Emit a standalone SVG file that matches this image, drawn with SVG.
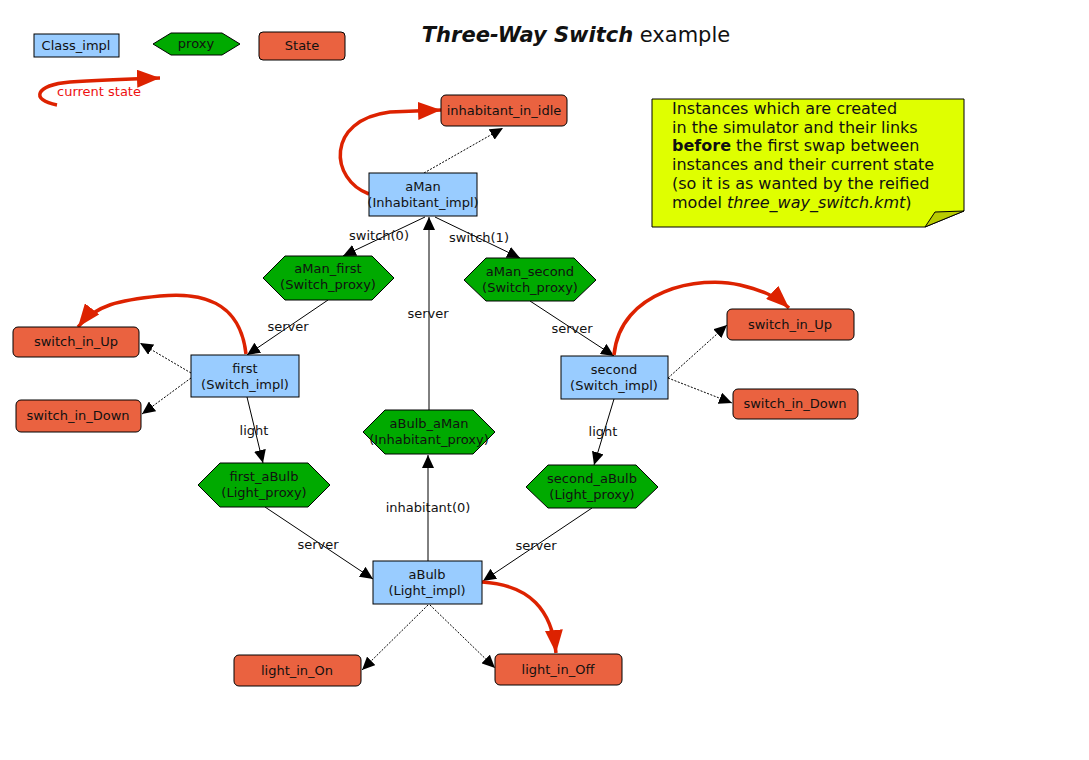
<svg xmlns="http://www.w3.org/2000/svg" width="1089" height="760" viewBox="0 0 1089 760">
<defs>
<marker id="ah" markerUnits="userSpaceOnUse" markerWidth="14" markerHeight="12" refX="13" refY="6" orient="auto"><path d="M0,0 L13,6 L0,12 Z" fill="#000"/></marker>
<marker id="rh" markerUnits="userSpaceOnUse" markerWidth="24" markerHeight="18" refX="23" refY="9" orient="auto"><path d="M0,0 L23,9 L0,18 Z" fill="#dd2200"/></marker>
<style>
text{font-family:"DejaVu Sans","Liberation Sans",sans-serif;font-size:13px;fill:#111;}
.c{text-anchor:middle}
.cls{fill:#99ccff;stroke:#000;stroke-width:1}
.prx{fill:#00aa00;stroke:#000;stroke-width:1}
.st{fill:#ea6240;stroke:#000;stroke-width:1}
.e{fill:none;stroke:#000;stroke-width:1;marker-end:url(#ah)}
.d{fill:none;stroke:#000;stroke-width:1;stroke-dasharray:2,1.5;marker-end:url(#ah)}
.r{fill:none;stroke:#dd2200;stroke-width:3.5;marker-end:url(#rh)}
.lbl{text-anchor:middle}
.n{font-size:16px}
</style>
</defs>
<rect width="1089" height="760" fill="#fff"/>

<text x="576" y="42" class="c" style="font-size:21px"><tspan font-weight="bold" font-style="italic">Three-Way Switch</tspan> example</text>

<g id="legend">
<rect x="34" y="34" width="85" height="23" class="cls"/><text x="76" y="50" class="c">Class_impl</text>
<polygon points="153,44 171,33 222,33 240,44 222,55 171,55" class="prx"/><text x="196" y="48" class="c">proxy</text>
<rect x="259" y="32" width="86" height="28" rx="4" class="st"/><text x="302" y="50" class="c">State</text>
<path d="M57,105 C30,100 35,85 70,82 C100,80 130,79 160,78" class="r"/>
<text x="57" y="96" style="fill:#ee1111">current state</text>
</g>

<g id="note">
<path d="M652,99 H964 V211 L925,227 H652 Z" fill="#dfff00" stroke="#000"/>
<path d="M925,227 L935,212 L964,211 Z" fill="#b8cc00" stroke="#000"/>
<text x="672" y="114" class="n">Instances which are created</text>
<text x="672" y="133" class="n">in the simulator and their links</text>
<text x="672" y="151" class="n"><tspan font-weight="bold">before</tspan> the first swap between</text>
<text x="672" y="170" class="n">instances and their current state</text>
<text x="672" y="189" class="n">(so it is as wanted by the reified</text>
<text x="672" y="208" class="n">model <tspan font-style="italic">three_way_switch.kmt</tspan>)</text>
</g>

<g id="connectors">
<path d="M424,173 L503,128" class="d"/>
<path d="M425,217 L343,256" class="e"/>
<text x="379" y="240" class="lbl">switch(0)</text>
<path d="M435,217 L520,258" class="e"/>
<text x="479" y="242" class="lbl">switch(1)</text>
<path d="M429,410 L429,217" class="e"/>
<text x="428" y="318" class="lbl">server</text>
<path d="M328,300 L247,355" class="e"/>
<text x="288" y="331" class="lbl">server</text>
<path d="M530,301 L614,356" class="e"/>
<text x="572" y="333" class="lbl">server</text>
<path d="M191,373 L140,343" class="d"/>
<path d="M191,378 L142,414" class="d"/>
<path d="M668,378 L727,325" class="d"/>
<path d="M668,378 L732,403" class="d"/>
<path d="M247,397 L263,463" class="e"/>
<text x="254" y="435" class="lbl">light</text>
<path d="M614,399 L594,465" class="e"/>
<text x="603" y="436" class="lbl">light</text>
<path d="M265,507 L373,579" class="e"/>
<text x="318" y="549" class="lbl">server</text>
<path d="M592,508 L483,581" class="e"/>
<text x="536" y="550" class="lbl">server</text>
<path d="M428,561 L428,455" class="e"/>
<text x="428" y="512" class="lbl">inhabitant(0)</text>
<path d="M428,605 L362,670" class="d"/>
<path d="M430,605 L495,668" class="d"/>
<path d="M369,194 C330,180 325,120 390,112 L441,110" class="r"/>
<path d="M246,354 C240,300 200,292 160,296 C120,300 95,305 78,327" class="r"/>
<path d="M614,355 C620,290 700,275 740,285 C760,290 775,295 789,308" class="r"/>
<path d="M482,582 C530,585 552,610 556,653" class="r"/>
</g>

<g id="inhabitant_in_idle"><rect x="441" y="95" width="126" height="31" rx="5" class="st"/><text x="504" y="115" class="c">inhabitant_in_idle</text></g>
<g id="aMan"><rect x="369" y="173" width="108" height="43" class="cls"/><text x="423" y="191" class="c">aMan</text><text x="423" y="207" class="c">(Inhabitant_impl)</text></g>
<g id="aMan_first"><polygon points="263,278 285,256 372,256 394,278 372,300 285,300" class="prx"/><text x="328" y="273" class="c">aMan_first</text><text x="328" y="289" class="c">(Switch_proxy)</text></g>
<g id="aMan_second"><polygon points="464,280 486,258 574,258 596,280 574,301 486,301" class="prx"/><text x="530" y="276" class="c">aMan_second</text><text x="530" y="292" class="c">(Switch_proxy)</text></g>
<g id="first"><rect x="191" y="355" width="108" height="42" class="cls"/><text x="245" y="373" class="c">first</text><text x="245" y="389" class="c">(Switch_impl)</text></g>
<g id="second"><rect x="561" y="356" width="107" height="43" class="cls"/><text x="614" y="374" class="c">second</text><text x="614" y="390" class="c">(Switch_impl)</text></g>
<g id="switch_in_Up_1"><rect x="13" y="327" width="126" height="30" rx="5" class="st"/><text x="76" y="346" class="c">switch_in_Up</text></g>
<g id="switch_in_Down_1"><rect x="16" y="400" width="125" height="32" rx="5" class="st"/><text x="78" y="420" class="c">switch_in_Down</text></g>
<g id="switch_in_Up_2"><rect x="727" y="309" width="127" height="31" rx="5" class="st"/><text x="790" y="329" class="c">switch_in_Up</text></g>
<g id="switch_in_Down_2"><rect x="733" y="389" width="125" height="30" rx="5" class="st"/><text x="795" y="408" class="c">switch_in_Down</text></g>
<g id="aBulb_aMan"><polygon points="363,432 385,410 473,410 495,432 473,454 385,454" class="prx"/><text x="429" y="428" class="c">aBulb_aMan</text><text x="429" y="444" class="c">(Inhabitant_proxy)</text></g>
<g id="first_aBulb"><polygon points="198,485 220,463 308,463 330,485 308,507 220,507" class="prx"/><text x="264" y="481" class="c">first_aBulb</text><text x="264" y="497" class="c">(Light_proxy)</text></g>
<g id="second_aBulb"><polygon points="526,487 548,465 636,465 658,487 636,508 548,508" class="prx"/><text x="592" y="483" class="c">second_aBulb</text><text x="592" y="499" class="c">(Light_proxy)</text></g>
<g id="aBulb"><rect x="373" y="561" width="109" height="43" class="cls"/><text x="427" y="579" class="c">aBulb</text><text x="427" y="595" class="c">(Light_impl)</text></g>
<g id="light_in_On"><rect x="234" y="655" width="127" height="31" rx="5" class="st"/><text x="297" y="675" class="c">light_in_On</text></g>
<g id="light_in_Off"><rect x="495" y="654" width="127" height="31" rx="5" class="st"/><text x="558" y="674" class="c">light_in_Off</text></g>
</svg>
